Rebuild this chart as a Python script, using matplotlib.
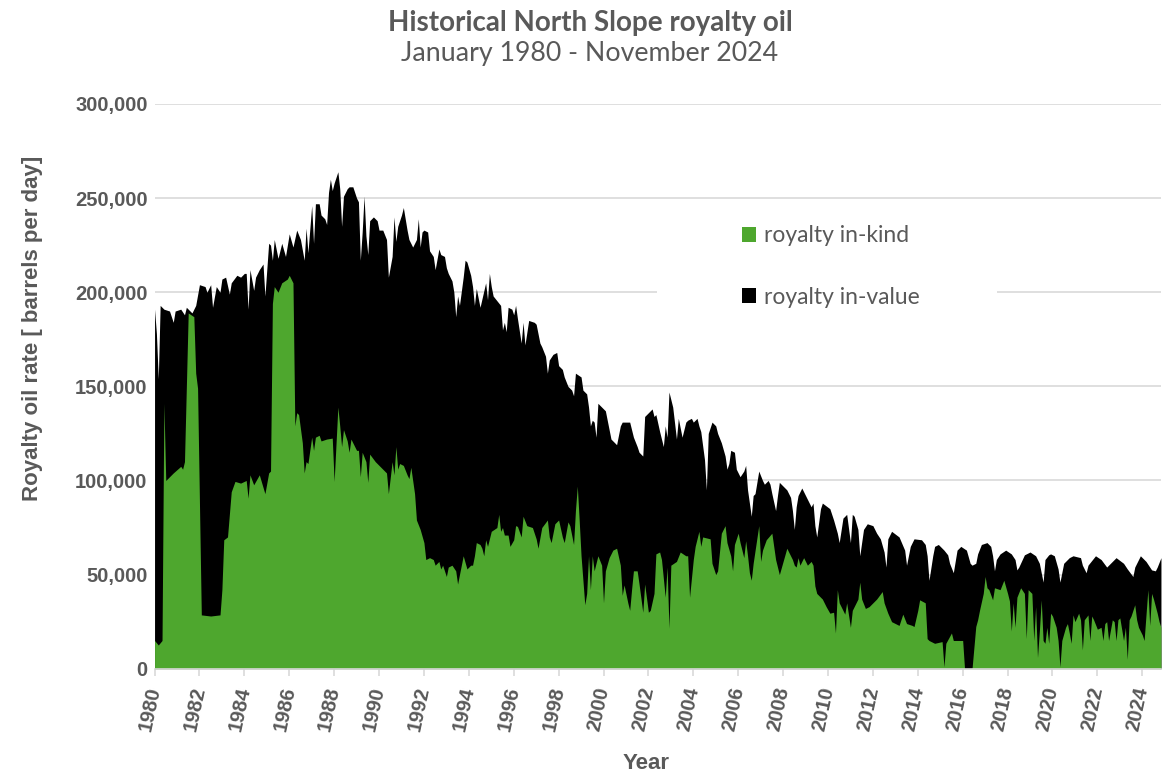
import matplotlib
matplotlib.use("Agg")
import matplotlib.pyplot as plt
from matplotlib.patches import Patch, Rectangle
from matplotlib.ticker import FuncFormatter
import numpy as np

GREEN = "#4EA72E"
GREY = "#595959"
GRID = "#D9D9D9"

# month index counted from January 1980 (0) to November 2024 (538)
# top of the stack = in-kind + in-value, thousand barrels per day
total_month = [0, 1, 2, 3, 5, 8, 10, 11, 14, 16, 17, 20, 22, 24, 27, 28, 30, 31, 33, 35, 36, 38, 40, 41, 44, 46, 48, 49, 50, 51, 53, 54, 56, 58, 59, 61, 62, 63, 64, 66, 68, 70, 72, 74, 76, 78, 80, 81, 82, 84, 85, 86, 88, 89, 91, 92, 93, 94, 95, 96, 98, 99, 100, 101, 103, 104, 106, 108, 109, 110, 111, 112, 113, 114, 115, 117, 119, 120, 122, 124, 125, 127, 128, 129, 130, 132, 133, 135, 136, 138, 140, 141, 142, 143, 144, 146, 147, 149, 150, 152, 153, 155, 156, 157, 159, 160, 161, 162, 163, 165, 166, 167, 169, 170, 171, 172, 174, 177, 178, 179, 180, 181, 185, 186, 187, 188, 189, 191, 192, 193, 194, 196, 197, 198, 200, 203, 204, 206, 207, 209, 210, 211, 213, 215, 216, 218, 219, 221, 223, 224, 225, 228, 229, 231, 232, 233, 234, 235, 236, 237, 239, 241, 242, 244, 246, 247, 249, 250, 254, 256, 258, 259, 261, 262, 264, 266, 267, 268, 270, 272, 273, 274, 275, 276, 277, 279, 280, 282, 284, 285, 287, 288, 290, 291, 292, 294, 295, 296, 298, 300, 301, 303, 305, 306, 307, 308, 310, 311, 313, 315, 316, 317, 319, 320, 321, 323, 325, 326, 328, 329, 330, 332, 333, 334, 336, 338, 340, 341, 342, 343, 344, 345, 346, 347, 349, 351, 352, 353, 354, 356, 357, 361, 363, 365, 366, 368, 370, 372, 373, 374, 376, 377, 379, 381, 384, 386, 388, 390, 391, 392, 394, 398, 401, 402, 404, 406, 410, 412, 413, 414, 416, 417, 419, 422, 424, 425, 427, 429, 431, 434, 436, 437, 439, 440, 442, 445, 447, 448, 449, 450, 452, 455, 458, 460, 461, 462, 465, 468, 471, 473, 475, 476, 478, 479, 481, 483, 484, 486, 489, 491, 495, 496, 498, 499, 503, 506, 509, 511, 514, 518, 520, 523, 524, 527, 530, 533, 535, 536, 538]
total_kbd = [191, 178, 154, 193, 191, 190, 184, 190, 191, 188, 192, 189, 193, 204, 203, 200, 204, 192, 203, 200, 207, 208, 199, 205, 209, 208, 210, 210, 191, 212, 201, 208, 212, 215, 198, 226, 225, 217, 228, 218, 226, 219, 231, 224, 233, 228, 217, 234, 221, 246, 226, 247, 247, 241, 239, 236, 253, 260, 254, 258, 264, 255, 235, 251, 255, 256, 256, 250, 248, 217, 232, 251, 230, 220, 238, 240, 238, 233, 233, 228, 208, 219, 240, 227, 235, 241, 245, 233, 228, 224, 228, 239, 224, 232, 233, 232, 222, 219, 212, 223, 220, 219, 213, 210, 206, 200, 187, 198, 193, 208, 217, 216, 209, 203, 193, 202, 192, 205, 196, 210, 203, 198, 193, 180, 184, 179, 192, 191, 188, 193, 186, 173, 184, 172, 185, 184, 183, 173, 171, 166, 157, 164, 167, 168, 161, 159, 155, 150, 148, 145, 157, 155, 148, 146, 139, 129, 132, 131, 123, 141, 139, 137, 132, 122, 120, 119, 129, 131, 131, 123, 118, 115, 113, 134, 136, 138, 134, 135, 126, 118, 129, 123, 147, 143, 139, 122, 133, 123, 131, 132, 133, 131, 133, 129, 126, 111, 95, 125, 131, 129, 125, 120, 113, 106, 109, 116, 115, 106, 102, 105, 108, 95, 81, 92, 93, 105, 100, 98, 100, 98, 93, 84, 92, 99, 97, 95, 91, 84, 74, 86, 92, 94, 96, 94, 90, 86, 88, 76, 70, 85, 88, 85, 79, 72, 67, 80, 82, 67, 82, 81, 74, 60, 74, 77, 76, 72, 69, 62, 54, 69, 73, 70, 63, 55, 65, 69, 68.5, 66, 60, 47, 60, 65, 66, 63, 60.5, 56, 51, 63, 65, 63, 56, 55, 56, 61, 66, 67, 65, 60, 52, 58, 61, 63, 61, 58, 52.5, 54, 60.5, 62, 60, 56, 46, 58, 60.5, 61, 60, 53, 46, 56, 59, 60, 59, 55, 51, 55, 60, 58, 54, 56, 59, 56, 53, 49, 54, 60, 57, 52.5, 52, 54, 59]

# royalty taken in kind, thousand barrels per day
inkind_month = [0, 2, 4, 5, 6, 10, 14, 15, 16, 18, 21, 22, 23, 25, 30, 35, 36, 37, 39, 41, 43, 46, 49, 50, 51, 53, 56, 59, 61, 62, 63, 64, 66, 68, 71, 72, 74, 75, 76, 77, 79, 80, 81, 82, 84, 85, 86, 88, 89, 92, 95, 96, 98, 99, 100, 101, 103, 104, 105, 108, 109, 110, 111, 113, 114, 115, 118, 121, 124, 125, 127, 128, 129, 130, 131, 133, 135, 136, 137, 139, 140, 142, 144, 145, 147, 149, 150, 152, 153, 154, 156, 157, 159, 161, 162, 163, 165, 167, 169, 170, 171, 172, 174, 175, 176, 177, 178, 180, 183, 184, 185, 186, 187, 189, 190, 192, 193, 194, 196, 197, 199, 202, 204, 205, 207, 210, 211, 212, 214, 216, 218, 219, 221, 222, 224, 225, 226, 227, 228, 229, 230, 231, 232, 233, 234, 235, 237, 239, 240, 241, 243, 245, 247, 249, 250, 251, 253, 254, 255, 256, 258, 259, 261, 262, 264, 265, 267, 268, 270, 271, 273, 274, 275, 276, 279, 281, 284, 285, 286, 288, 289, 291, 292, 293, 297, 298, 300, 301, 303, 305, 306, 308, 309, 310, 312, 313, 315, 316, 317, 318, 319, 320, 323, 324, 325, 327, 330, 332, 334, 336, 338, 341, 342, 343, 344, 345, 347, 349, 351, 352, 353, 354, 356, 357, 359, 361, 363, 364, 365, 366, 369, 370, 372, 373, 376, 377, 378, 380, 382, 386, 389, 390, 392, 394, 398, 400, 402, 405, 406, 408, 409, 412, 413, 414, 417, 421, 422, 423, 426, 427, 432, 433, 437, 439, 440, 441, 443, 444, 445, 446, 448, 449, 452, 454, 456, 457, 458, 459, 460, 461, 463, 465, 466, 467, 469, 470, 471, 472, 473, 474, 475, 476, 477, 478, 479, 480, 482, 483, 484, 485, 487, 488, 489, 490, 491, 492, 494, 495, 496, 497, 499, 500, 501, 502, 504, 506, 507, 508, 509, 510, 512, 513, 514, 515, 516, 518, 519, 520, 521, 522, 524, 525, 526, 528, 529, 531, 532, 533, 534, 536, 537, 538]
inkind_kbd = [15, 12.6, 15, 141, 100, 104, 107.5, 106, 110, 189, 187, 157, 149, 28.6, 28, 28.6, 42, 68.5, 70, 94, 99.5, 98.6, 100, 90.6, 103, 97.7, 103, 93, 104, 105, 194, 203, 200, 205, 207, 209, 205, 129, 136, 135, 120, 104, 110, 109, 123, 116, 123, 124, 121, 122, 122.5, 99.5, 139, 129, 118, 127, 121, 115, 122, 116, 116, 102, 115, 110, 99, 114, 110, 107, 104, 93, 110, 103, 118, 106, 109, 108, 103, 101, 107, 93, 79, 74, 67, 58, 59, 58, 55, 57, 53, 55, 49, 54, 55, 52, 45, 50, 60, 53, 55, 55, 60, 67, 66, 64, 60, 68.5, 65, 73, 75, 82, 73, 75, 71, 71, 65, 68.5, 76, 75.6, 70, 81, 76, 75, 69, 64, 75, 79, 70, 67, 77, 79, 70, 67, 78, 76, 66, 84, 97, 79, 60, 47, 34, 40, 60, 42, 60, 52, 60, 55, 35, 52, 59, 63, 64, 55, 39, 44.5, 35, 31, 42, 52, 52, 45, 30, 45, 30, 31, 40, 61, 62, 58, 38, 54, 21.5, 55, 57, 62, 60, 60, 38, 58, 65, 73, 65, 70, 69, 56, 50, 52, 72, 76, 67, 60, 52, 66, 72, 67, 59, 68, 60, 51, 47, 56, 76, 57, 63, 68.5, 72, 58, 50, 57, 64, 58, 55, 54, 59, 55, 59, 55, 57, 55, 44, 40, 38, 37, 33, 29.5, 30, 19, 42, 35, 29, 35, 22, 31, 37, 46, 37, 32, 33, 37, 41, 35, 29.5, 25, 23, 29, 24, 23, 22.4, 31, 36.6, 35, 16, 15, 13.5, 14.4, 1, 13.5, 19, 15, 15, 0, 0, 22.4, 26, 31, 40, 49, 43, 42, 36.6, 43, 42, 47, 40, 36, 20, 35, 22, 38, 43, 40, 16, 42, 40, 15, 33, 6, 20, 36.6, 15, 13.5, 22, 13.5, 29.5, 28, 22, 15, 1, 15, 22, 24, 19, 13.5, 28.6, 25, 29.5, 26, 10, 26, 28.6, 15, 28, 26, 21, 22, 15, 24, 25, 15, 26, 25, 15, 26, 27, 15, 22, 5, 26, 28, 34, 26, 22, 18, 15, 42, 23, 40, 37, 29.5, 25, 22]

series_labels = ["royalty in-kind", "royalty in-value"]
year_ticks = list(range(1980, 2025, 2))
value_ticks = [0, 50000, 100000, 150000, 200000, 250000, 300000]
last_month = 538


def month_to_year(m):
    return 1980 + np.asarray(m, dtype=float) / 12.0


fig = plt.figure(figsize=(11.62, 7.73), dpi=100)
ax = fig.add_axes([0.1330, 0.1349, 0.8661, 0.7306])

ax.fill_between(month_to_year(total_month), 0, np.asarray(total_kbd) * 1000,
                color="black", lw=0, zorder=2)
ax.fill_between(month_to_year(inkind_month), 0, np.asarray(inkind_kbd) * 1000,
                color=GREEN, lw=0, zorder=3)

ax.set_xlim(1980, month_to_year(last_month))
ax.set_ylim(0, 300000)
ax.set_xticks(year_ticks)
ax.set_yticks(value_ticks)
ax.yaxis.set_major_formatter(FuncFormatter(lambda v, p: "{:,.0f}".format(v)))

ax.set_axisbelow(True)
ax.grid(axis="y", color=GRID, lw=1.2)
ax.grid(axis="x", visible=False)
for s in ["left", "right", "top"]:
    ax.spines[s].set_visible(False)
ax.spines["bottom"].set_color(GRID)
ax.spines["bottom"].set_linewidth(1.2)
ax.spines["bottom"].set_zorder(4)

tick_font = dict(family=["Liberation Sans", "DejaVu Sans"], weight="bold", size=14.5)
ax.tick_params(axis="y", length=0, pad=5, labelcolor=GREY)
ax.tick_params(axis="x", length=5, width=1.2, color=GRID, pad=8, labelcolor=GREY)
for lab in ax.get_yticklabels():
    lab.set(**tick_font)
for lab in ax.get_xticklabels():
    lab.set(**tick_font)
    lab.set_rotation(78)
    lab.set_ha("right")
    lab.set_va("center")
    lab.set_rotation_mode("anchor")

ax.set_xlabel("Year", color=GREY, fontsize=16, fontweight="bold",
              family=["Liberation Sans", "DejaVu Sans"])
ax.xaxis.set_label_coords(0.488, -0.167)
ax.xaxis.label.set_va("center")
ax.set_ylabel("Royalty oil rate [ barrels per day]", color=GREY, fontsize=16,
              fontweight="bold", family=["Liberation Sans", "DejaVu Sans"])
ax.yaxis.set_label_coords(-0.1208, 0.603)
ax.yaxis.label.set_va("center")

# white box behind the legend hides the 200,000 grid line like the original
ax.add_patch(Rectangle((0.499, 0.60), 0.338, 0.14, transform=ax.transAxes,
                       facecolor="white", edgecolor="none", zorder=1))
handles = [Patch(facecolor=GREEN), Patch(facecolor="black")]
ax.legend(handles, series_labels, loc="upper left", bbox_to_anchor=(0.5837, 0.785),
          frameon=False, borderpad=0, borderaxespad=0, handlelength=0.62,
          handleheight=0.62, handletextpad=0.32, labelspacing=1.76,
          prop=dict(family=["Lato", "DejaVu Sans"], size=16.5), labelcolor=GREY)

fig.text(590 / 1162, 1 - 30.7 / 773, "Historical North Slope royalty oil",
         ha="center", va="baseline", fontsize=20, fontweight="bold",
         family=["Lato", "DejaVu Sans"], color=GREY)
fig.text(590 / 1162, 1 - 61 / 773, "January 1980 - November 2024",
         ha="center", va="baseline", fontsize=19.3,
         family=["Lato", "DejaVu Sans"], color=GREY)

fig.savefig("out.png", dpi=100)
